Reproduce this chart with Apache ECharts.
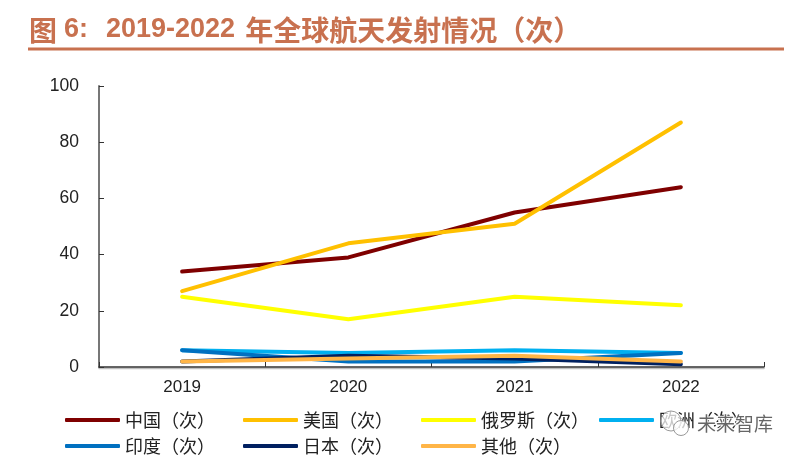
<!DOCTYPE html>
<html>
<head>
<meta charset="utf-8">
<style>
html, body { margin: 0; padding: 0; background: #fff; }
#chart { width: 797px; height: 458px; }
</style>
<script src="https://cdn.jsdelivr.net/npm/echarts@6/dist/echarts.min.js"></script>
</head>
<body>
<div id="chart"></div>
<script>
const years = ['2019', '2020', '2021', '2022'];
const yTicks = [0, 20, 40, 60, 80, 100];

const china = [34, 39, 55, 64];
const usa = [27, 44, 51, 87];
const russia = [25, 17, 25, 22];
const europe = [6, 5, 6, 5];
const india = [6, 2, 2, 5];
const japan = [2, 4, 3, 1];
const others = [2, 3, 4, 2];

const names = ['中国（次）', '美国（次）', '俄罗斯（次）', '欧洲（次）', '印度（次）', '日本（次）', '其他（次）'];
const values = [china, usa, russia, europe, india, japan, others];
const colors = ['#7F0000', '#FFC000', '#FFFF00', '#00B0F0', '#0070C0', '#002060', '#FFB547'];

const titleColor = '#C8714F';
const cjk = '"Noto Sans CJK SC", sans-serif';
const latin = '"Liberation Sans", Arial, sans-serif';

// one legend per item, the columns in the original are fixed width
const legends = names.map((n, i) => ({
    data: [n],
    left: 65 + (i % 4) * 178,
    top: i < 4 ? 411 : 437,
    padding: 0,
    itemWidth: 55,
    itemHeight: 4,
    itemGap: 4,
    icon: 'roundRect',
    textStyle: { fontFamily: cjk, fontSize: 18, color: '#222' }
}));

const chart = echarts.init(document.getElementById('chart'), null, { renderer: 'canvas' });
chart.setOption({
    animation: false,
    backgroundColor: '#fff',
    title: {
        left: 24,
        top: 11,
        text: '{c|图}{a|6:}{b|2019-2022}{d|年全球航天发射情况（次）}',
        textStyle: {
            rich: {
                c: { fontFamily: cjk, fontSize: 28, fontWeight: 'bold', color: titleColor },
                a: { fontFamily: latin, fontSize: 27, fontWeight: 'bold', color: titleColor, padding: [0, 0, 0, 7] },
                b: { fontFamily: latin, fontSize: 27, fontWeight: 'bold', color: titleColor, padding: [0, 0, 0, 18] },
                d: { fontFamily: cjk, fontSize: 28, fontWeight: 'bold', color: titleColor, padding: [0, 0, 0, 10] }
            }
        }
    },
    grid: { left: 99, right: 33, top: 86, bottom: 91 },
    legend: legends,
    xAxis: {
        type: 'category',
        data: years,
        boundaryGap: true,
        axisLine: { lineStyle: { color: '#333', width: 1.5, shadowColor: 'rgba(0,0,0,0.25)', shadowOffsetY: 1.5 } },
        axisTick: { show: true, inside: true, length: 5, alignWithLabel: false, lineStyle: { color: '#333' } },
        axisLabel: { fontFamily: latin, fontSize: 17, color: '#222', margin: 12 }
    },
    yAxis: {
        type: 'value',
        min: yTicks[0],
        max: yTicks[yTicks.length - 1],
        interval: 20,
        splitLine: { show: false },
        axisLine: { show: true, lineStyle: { color: '#777', width: 2 } },
        axisTick: { show: true, inside: true, length: 5, lineStyle: { color: '#333' } },
        axisLabel: { fontFamily: latin, fontSize: 17.5, color: '#222', margin: 20, padding: [2, 0, 0, 0] }
    },
    series: names.map((n, i) => ({
        name: n,
        type: 'line',
        data: values[i],
        symbol: 'none',
        itemStyle: { color: colors[i] },
        lineStyle: { color: colors[i], width: 4, cap: 'round' }
    })),
    graphic: [
        // rule under the title
        { type: 'rect', shape: { x: 28, y: 47.5, width: 756, height: 3 }, style: { fill: titleColor } },
        // watermark over the legend
        { type: 'circle', z: 100, shape: { cx: 671, cy: 421, r: 10 }, style: { fill: 'rgba(255,255,255,0.75)', stroke: '#999', lineWidth: 1 } },
        { type: 'circle', z: 100, shape: { cx: 681, cy: 428, r: 7.5 }, style: { fill: 'rgba(255,255,255,0.75)', stroke: '#999', lineWidth: 1 } },
        {
            type: 'text', z: 100, x: 697, y: 414,
            style: {
                text: '未来智库', fontFamily: cjk, fontSize: 19, fill: '#666',
                stroke: '#fff', lineWidth: 2
            }
        }
    ]
});
</script>
</body>
</html>
